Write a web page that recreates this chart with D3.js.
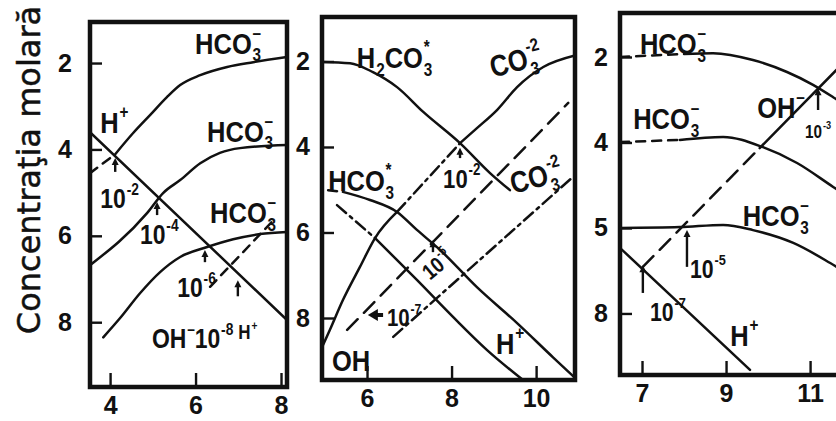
<!DOCTYPE html>
<html>
<head>
<meta charset="utf-8">
<script src="https://cdn.jsdelivr.net/npm/d3@7"></script>
<style>
  html, body { margin: 0; padding: 0; background: #fff; }
  svg { display: block; }
  .lbl { font-family: "Liberation Sans", Arial, sans-serif; font-weight: bold; fill: #111; }
  .tick text { font-family: "Liberation Sans", Arial, sans-serif; font-weight: bold; font-size: 25px; fill: #111; }
  .title { font-family: "DejaVu Sans", sans-serif; font-size: 32px; fill: #111; stroke: #111; stroke-width: 0.5px; }
</style>
</head>
<body>
<svg id="chart" width="836" height="421"></svg>
<script>
// ---------- axis extents (pH on x, -log concentration on y) ----------
const p1XDomain = [3.53, 8.14], p1YDomain = [1.05, 9.5];
const p2XDomain = [4.935, 10.92], p2YDomain = [0.96, 9.45];
const p3XDomain = [6.476, 11.95], p3YDomain = [0.97, 9.44];

// ---------- tick values and their printed labels ----------
const yTicks = [2, 4, 6, 8];
const p1YLabels = ["2", "4", "6", "8"];
const p2YLabels = ["2", "4", "6", "8"];
const p3YLabels = ["2", "4", "5", "8"];
const p1XTicks = [4, 6, 8], p1XLabels = ["4", "6", "8"];
const p2XTicks = [6, 8, 10], p2XLabels = ["6", "8", "10"];
const p3XTicks = [7, 9, 11], p3XLabels = ["7", "9", "11"];

// ---------- panel 1 curves: [pH, -log c] ----------
const p1Hplus = [[3.53, 3.60], [8.14, 7.95]];
const p1Hco3A = [[3.53, 4.55], [4.12, 4.11], [4.54, 3.62], [4.94, 3.20], [5.33, 2.79], [5.64, 2.51],
                 [6.11, 2.28], [6.74, 2.09], [7.35, 1.98], [8.14, 1.86]];
const p1Hco3B = [[3.53, 6.68], [4.87, 5.47], [5.24, 5.01], [5.64, 4.71], [6.11, 4.32], [6.57, 4.08],
                 [7.04, 3.97], [8.14, 3.90]];
const p1Hco3C = [[3.84, 8.35], [4.23, 7.91], [4.70, 7.33], [5.17, 6.84], [5.64, 6.49], [6.27, 6.26],
                 [6.88, 6.08], [7.51, 5.96], [8.14, 5.91]];
const p1Oh = [[6.34, 7.18], [7.88, 5.58]];

// ---------- panel 2 curves ----------
const p2H2co3 = [[4.93, 2.01], [5.60, 2.04], [6.14, 2.25], [6.71, 2.60], [7.33, 3.18], [8.20, 3.91],
                 [8.91, 4.61], [9.38, 5.01]];
const p2Co3 = [[4.96, 8.63], [5.12, 8.28], [5.43, 7.58], [5.83, 6.81], [6.19, 6.13], [6.71, 5.52],
               [8.20, 3.91], [8.60, 3.56], [9.08, 3.13], [9.55, 2.60], [10.17, 2.13], [10.92, 1.86]];
const p2Hco3 = [[5.08, 5.01], [5.43, 5.05], [6.07, 5.24], [6.71, 5.52], [7.18, 5.94], [7.73, 6.41],
                [8.60, 7.28], [9.55, 8.12], [10.40, 8.92], [10.92, 9.40]];
const p2Hplus = [[5.29, 5.36], [6.19, 6.13], [7.18, 7.11], [8.04, 7.98], [8.84, 8.75], [9.69, 9.45]];
const p2Dash = [[5.53, 8.28], [10.76, 2.97]];
const p2DashDot = [[6.62, 8.44], [10.85, 4.72]];

// ---------- panel 3 curves ----------
const p3Hco3A = [[6.48, 2.00], [7.50, 1.95], [8.00, 1.93], [8.69, 1.91], [9.64, 2.07], [10.45, 2.35],
                 [11.07, 2.65], [11.55, 2.94], [11.95, 3.20]];
const p3Hco3B = [[6.48, 3.99], [7.90, 3.94], [8.93, 3.87], [9.88, 4.11], [10.69, 4.48], [11.55, 5.04],
                 [11.95, 5.30]];
const p3Hco3C = [[6.48, 6.00], [7.90, 5.98], [8.93, 5.93], [9.64, 6.05], [10.60, 6.35], [11.48, 6.82],
                 [11.95, 7.10]];
const p3Hplus = [[6.48, 6.47], [9.57, 9.32]];
const p3Oh = [[7.02, 6.91], [9.80, 4.13], [11.95, 1.98]];

// ---------- pointer arrows: [pH, from, to] ----------
const p1Arrows = [[4.12, 4.52, 4.20], [5.10, 5.52, 5.22], [6.22, 6.61, 6.33], [6.99, 7.40, 7.03]];
const p2Arrows = [[8.20, 4.26, 4.02], [7.56, 6.46, 6.18]];
const p2SideArrow = [6.38, 6.02, 7.93];
const p3Arrows = [[8.07, 6.91, 6.05], [7.02, 7.52, 6.87], [11.19, 3.24, 2.73]];

// ---------- species labels ----------
const HCO3m = [["HCO"], ["3", "sub"], ["–", "sup"]];
const Hp = [["H"], ["+", "sup"]];
const OHm = [["OH"], ["–", "sup"]];
const ten = e => [["10"], ["-" + e, "sup"]];

const p1Labels = [
  { parts: HCO3m, at: [5.99, 1.78] },
  { parts: Hp, at: [3.77, 3.62] },
  { parts: HCO3m, at: [6.27, 3.82] },
  { parts: HCO3m, at: [6.34, 5.70] },
  { parts: ten(2), at: [3.77, 5.36], size: 27 },
  { parts: ten(4), at: [4.70, 6.20], size: 27 },
  { parts: ten(6), at: [5.57, 7.42], size: 27 },
  { parts: OHm, at: [4.98, 8.60], size: 27 },
  { parts: ten(8), at: [5.98, 8.60], size: 27 },
  { parts: Hp, at: [7.00, 8.40], size: 20 }
];
const p2Labels = [
  { parts: [["H"], ["2", "sub"], ["CO"], ["3", "sub"], ["*", "sup"]], at: [5.76, 2.15] },
  { parts: [["CO"], ["3", "sub"], ["-2", "sup"]], at: [8.98, 2.38], rot: -15 },
  { parts: [["HCO"], ["3", "sub"], ["*", "sup"]], at: [5.08, 5.03] },
  { parts: ten(2), at: [7.80, 4.96], size: 26 },
  { parts: [["CO"], ["3", "sub"], ["-2", "sup"]], at: [9.46, 5.10], rot: -15 },
  { parts: ten(5), at: [7.49, 7.13], size: 22, rot: -40 },
  { parts: ten(7), at: [6.47, 8.18], size: 24 },
  { parts: Hp, at: [9.05, 8.84] },
  { parts: [["OH"]], at: [5.17, 9.24] }
];
const p3Labels = [
  { parts: HCO3m, at: [6.95, 1.93] },
  { parts: HCO3m, at: [6.79, 3.68] },
  { parts: HCO3m, at: [9.40, 5.95] },
  { parts: OHm, at: [9.74, 3.42] },
  { parts: Hp, at: [9.10, 8.76] },
  { parts: ten(5), at: [8.14, 7.17], size: 25 },
  { parts: ten(7), at: [7.19, 8.17], size: 25 },
  { parts: ten(3), at: [10.88, 3.89], size: 18 }
];

// ---------- drawing ----------
const svg = d3.select("#chart");
const INK = "#111";
const DASH = "9,7", LONGDASH = "15,9", DASHDOT = "12,5,3,5";

function makePanel(id, box, xd, yd) {
  const x = d3.scaleLinear().domain(xd).range([box[0], box[2]]);
  const y = d3.scaleLinear().domain(yd).range([box[1], box[3]]);
  svg.append("clipPath").attr("id", "clip" + id)
    .append("rect").attr("x", box[0]).attr("y", box[1])
    .attr("width", box[2] - box[0]).attr("height", box[3] - box[1]);
  const g = svg.append("g");
  const plot = g.append("g").attr("clip-path", `url(#clip${id})`);
  return { x, y, box, g, plot };
}

function drawCurve(p, pts, segs) {
  const gen = d3.line().x(d => p.x(d[0])).y(d => p.y(d[1])).curve(d3.curveMonotoneX);
  (segs || [[-Infinity, Infinity, null]]).forEach(([a, b, dash]) => {
    const part = pts.filter(d => d[0] >= a - 1e-9 && d[0] <= b + 1e-9);
    p.plot.append("path").datum(part).attr("d", gen)
      .attr("fill", "none").attr("stroke", INK).attr("stroke-width", 2.5)
      .attr("stroke-linecap", "round").attr("stroke-dasharray", dash);
  });
}

function drawArrows(p, arrows) {
  arrows.forEach(([xv, y0, y1]) => {
    const X = p.x(xv), Y0 = p.y(y0), Y1 = p.y(y1);
    p.plot.append("line").attr("x1", X).attr("x2", X).attr("y1", Y0).attr("y2", Y1 + 5)
      .attr("stroke", INK).attr("stroke-width", 2.4);
    p.plot.append("path").attr("d", `M${X},${Y1}L${X - 3.5},${Y1 + 7}L${X + 3.5},${Y1 + 7}Z`).attr("fill", INK);
  });
}

function drawLabel(p, lab) {
  const size = lab.size || 30;
  const grp = p.plot.append("g")
    .attr("transform", `translate(${p.x(lab.at[0])},${p.y(lab.at[1])}) rotate(${lab.rot || 0}) scale(0.85,1)`);
  let cx = 0, pairW = 0;
  lab.parts.forEach(([txt, kind], i) => {
    const small = kind === "sub" || kind === "sup";
    const t = grp.append("text").attr("class", "lbl")
      .attr("font-size", small ? size * 0.6 : size)
      .attr("x", cx + (small ? 1 : 0))
      .attr("y", kind === "sub" ? size * 0.26 : kind === "sup" ? -size * 0.5 : 0)
      .text(txt);
    const w = t.node().getComputedTextLength() + (small ? 1 : 0);
    const next = lab.parts[i + 1];
    if (kind === "sub" && next && next[1] === "sup") { pairW = w; }
    else if (kind === "sup" && pairW) { cx += Math.max(w, pairW); pairW = 0; }
    else cx += w;
  });
}

function drawFrame(p, yLabels, xTicks, xLabels, labelGap) {
  const b = p.box;
  const yAxis = d3.axisLeft(p.y).tickValues(yTicks)
    .tickFormat((d, i) => yLabels[i]).tickSizeInner(-12).tickSizeOuter(0).tickPadding(labelGap);
  p.g.append("g").attr("transform", `translate(${b[0]},0)`).call(yAxis)
    .call(a => a.select(".domain").remove())
    .call(a => a.selectAll("line").attr("stroke", INK).attr("stroke-width", 2.4));
  const xAxis = d3.axisBottom(p.x).tickValues(xTicks)
    .tickFormat((d, i) => xLabels[i]).tickSizeInner(-14).tickSizeOuter(0).tickPadding(9);
  p.g.append("g").attr("transform", `translate(0,${b[3]})`).call(xAxis)
    .call(a => a.select(".domain").remove())
    .call(a => a.selectAll("line").attr("stroke", INK).attr("stroke-width", 2.4));
  p.g.append("rect").attr("x", b[0]).attr("y", b[1])
    .attr("width", b[2] - b[0]).attr("height", b[3] - b[1])
    .attr("fill", "none").attr("stroke", INK).attr("stroke-width", 4.5);
}

// panel 1
const P1 = makePanel(1, [90, 22, 287, 387], p1XDomain, p1YDomain);
drawCurve(P1, p1Hplus);
drawCurve(P1, p1Hco3A, [[3.53, 4.12, DASH], [4.12, 8.14, null]]);
drawCurve(P1, p1Hco3B);
drawCurve(P1, p1Hco3C);
drawCurve(P1, p1Oh, [[6.34, 7.88, DASH]]);
drawArrows(P1, p1Arrows);
p1Labels.forEach(l => drawLabel(P1, l));
drawFrame(P1, p1YLabels, p1XTicks, p1XLabels, 18);

// panel 2
const P2 = makePanel(2, [322, 17, 575, 380], p2XDomain, p2YDomain);
drawCurve(P2, p2H2co3);
drawCurve(P2, p2Co3, [[4.96, 6.71, null], [6.71, 8.20, DASHDOT], [8.20, 10.92, null]]);
drawCurve(P2, p2Hco3, [[5.08, 5.43, DASH], [5.43, 10.92, null]]);
drawCurve(P2, p2Hplus, [[5.29, 6.19, DASHDOT], [6.19, 9.69, null]]);
drawCurve(P2, p2Dash, [[5.53, 10.76, LONGDASH]]);
drawCurve(P2, p2DashDot, [[6.62, 10.85, DASHDOT]]);
drawArrows(P2, p2Arrows);
{
  const [xa, xb, yv] = p2SideArrow;
  const X0 = P2.x(xa), X1 = P2.x(xb), Y = P2.y(yv);
  P2.plot.append("line").attr("x1", X0).attr("x2", X1 + 8).attr("y1", Y).attr("y2", Y)
    .attr("stroke", INK).attr("stroke-width", 4);
  P2.plot.append("path").attr("d", `M${X1},${Y}L${X1 + 10},${Y - 6}L${X1 + 10},${Y + 6}Z`).attr("fill", INK);
}
p2Labels.forEach(l => drawLabel(P2, l));
drawFrame(P2, p2YLabels, p2XTicks, p2XLabels, 12);

// panel 3
const P3 = makePanel(3, [620, 13, 850, 375], p3XDomain, p3YDomain);
drawCurve(P3, p3Hco3A, [[6.48, 8.00, DASH], [8.00, 11.95, null]]);
drawCurve(P3, p3Hco3B, [[6.48, 7.90, DASH], [7.90, 11.95, null]]);
drawCurve(P3, p3Hco3C);
drawCurve(P3, p3Hplus);
drawCurve(P3, p3Oh, [[7.02, 9.80, LONGDASH], [9.80, 11.95, null]]);
drawArrows(P3, p3Arrows);
p3Labels.forEach(l => drawLabel(P3, l));
drawFrame(P3, p3YLabels, p3XTicks, p3XLabels, 12);

// shared y-axis title
svg.append("text").attr("class", "title")
  .attr("transform", "translate(40,170) rotate(-90)")
  .attr("text-anchor", "middle")
  .text("Concentraţia molară");
</script>
</body>
</html>
